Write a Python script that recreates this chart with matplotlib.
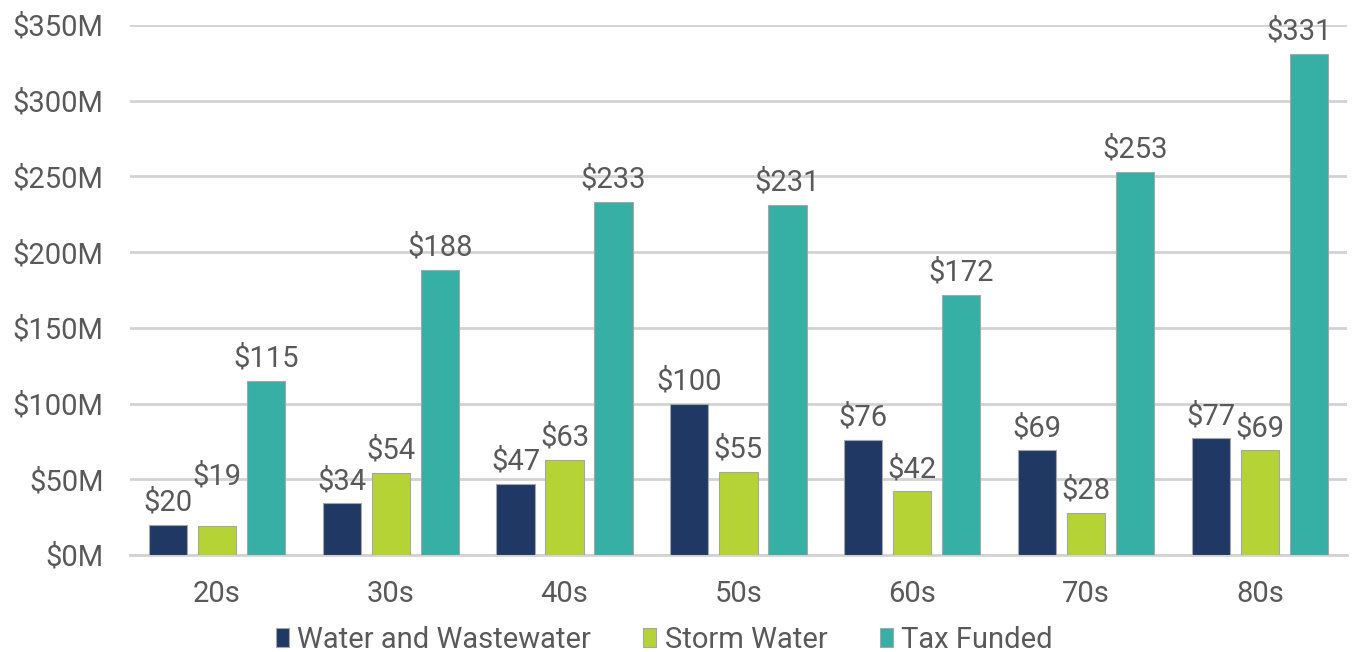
import matplotlib
matplotlib.use("Agg")
import matplotlib.pyplot as plt
import numpy as np

plt.rcParams['font.family'] = ['Roboto', 'DejaVu Sans']

categories = ["20s", "30s", "40s", "50s", "60s", "70s", "80s"]
water = [20, 34, 47, 100, 76, 69, 77]
storm = [19, 54, 63, 55, 42, 28, 69]
tax = [115, 188, 233, 231, 172, 253, 331]
series_names = ["Water and Wastewater", "Storm Water", "Tax Funded"]
colors = ["#203864", "#b5d334", "#36afa5"]
yticks = [0, 50, 100, 150, 200, 250, 300, 350]

# label nudges (series index, category index) -> (dx, dy) in points, to avoid collisions
nudges = {(1, 0): (0, 20), (2, 6): (-7, 0)}

fig = plt.figure(figsize=(13.53, 6.52), dpi=100)
ax = fig.add_axes([0.096, 0.1488, 0.8995, 0.8129])

x = np.arange(len(categories))
w = 0.22
off = 0.282
text_color = "#595959"
fs = 21
for i, (vals, name, c) in enumerate(zip([water, storm, tax], series_names, colors)):
    pos = x + (i - 1) * off
    ax.bar(pos, vals, width=w, color=c, edgecolor="#a6a6a6", linewidth=0.8, label=name, zorder=3)
    for j, (p, v) in enumerate(zip(pos, vals)):
        dx, dy = nudges.get((i, j), (0, 0))
        ax.annotate(f"${v}", (p, v), xytext=(dx, 6 + dy), textcoords="offset points",
                    ha="center", va="bottom", fontsize=fs, color=text_color, zorder=4)

ax.set_xlim(-0.5, 6.5)
ax.set_ylim(0, 350)
ax.set_yticks(yticks)
ax.set_yticklabels([f"${t}M" for t in yticks])
ax.set_xticks(x)
ax.set_xticklabels(categories)
ax.tick_params(axis='both', length=0, labelsize=fs, labelcolor=text_color)
ax.tick_params(axis='y', pad=19)
ax.tick_params(axis='x', pad=18)
ax.grid(axis='y', color="#d3d3d3", linewidth=2, zorder=0)
for s in ["top", "right", "left"]:
    ax.spines[s].set_visible(False)
ax.spines["bottom"].set_color("#d3d3d3")
ax.spines["bottom"].set_linewidth(2)

leg = ax.legend(loc="upper center", bbox_to_anchor=(0.439, -0.095), ncol=3, frameon=False,
                fontsize=fs, handlelength=0.45, handleheight=0.6, handletextpad=0.28,
                columnspacing=1.8, labelcolor=text_color, borderpad=0.2)

fig.savefig("out.png", dpi=100)
